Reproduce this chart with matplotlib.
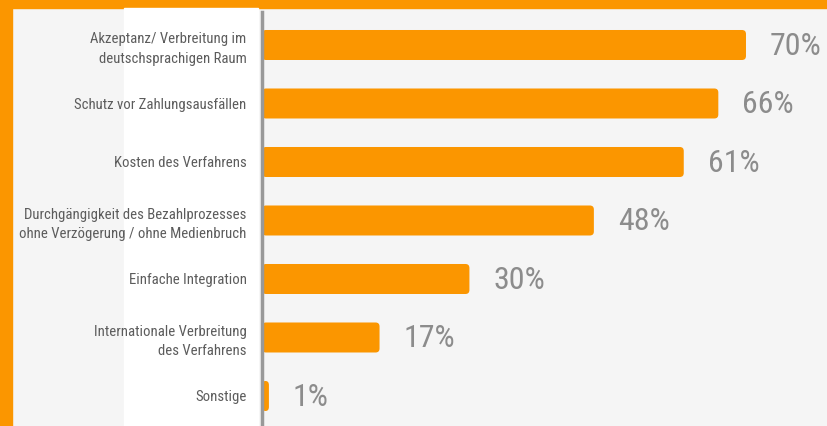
import numpy as np
import matplotlib.pyplot as plt
from matplotlib import font_manager
from matplotlib.patches import FancyBboxPatch, Rectangle

categories = [
    "Akzeptanz/ Verbreitung im\ndeutschsprachigen Raum",
    "Schutz vor Zahlungsausfällen",
    "Kosten des Verfahrens",
    "Durchgängigkeit des Bezahlprozesses\nohne Verzögerung / ohne Medienbruch",
    "Einfache Integration",
    "Internationale Verbreitung\ndes Verfahrens",
    "Sonstige",
]
values = [70, 66, 61, 48, 30, 17, 1]

ORANGE = "#fb9600"
BG = "#f5f5f5"
W, H = 827, 426

# pick a narrow font if one is installed
have = {f.name for f in font_manager.fontManager.ttflist}
narrow = [n for n in ["Roboto Condensed", "Liberation Sans Narrow", "DejaVu Sans"] if n in have]
FONT = narrow[0] if narrow else "DejaVu Sans"

fig = plt.figure(figsize=(W / 100, H / 100), dpi=100)
fig.patch.set_facecolor(BG)
# orange frame (left and top) and white label panel
fig.patches.append(Rectangle((0, 0), 12 / W, 1, transform=fig.transFigure, color=ORANGE, zorder=-5))
fig.patches.append(Rectangle((0, 1 - 8 / H), 1, 8 / H, transform=fig.transFigure, color=ORANGE, zorder=-5))
fig.patches.append(Rectangle((124 / W, 0), 134 / W, 1 - 8 / H, transform=fig.transFigure, color="white", zorder=-5))

ax = fig.add_axes([262 / W, 0, (W - 262) / W, 1 - 12 / H])
ax.set_zorder(1)
ax.set_facecolor(BG)
y = np.arange(len(values))
ax.set_xlim(0, (W - 262) / 6.914)
ax.set_ylim(6.513, -0.564)

bh = 30 / 58.5
rx = 4 / 6.914
asp = (4 / 58.5) / rx
for yi, v in zip(y, values):
    r = min(rx, v / 2)
    ax.add_patch(FancyBboxPatch((0, yi - bh / 2), v, bh,
                                boxstyle=f"round,pad=0,rounding_size={r}",
                                mutation_aspect=asp * rx / r,
                                facecolor=ORANGE, edgecolor="none", zorder=2))
    ax.text(v + 24 / 6.914, yi + 0.02, f"{v}%", va="center", ha="left",
            fontsize=23, color="#8c8c8c", family=FONT, fontstretch="condensed")

ax.set_yticks(y)
ax.set_yticklabels(categories, fontsize=10.6, color="#5c5c5c", family=FONT,
                   fontstretch="condensed", linespacing=1.5)
ax.tick_params(axis="y", length=0, pad=11)
ax.set_xticks([])
for s in ["top", "right", "bottom"]:
    ax.spines[s].set_visible(False)
ax.spines["left"].set_color("#999999")
ax.spines["left"].set_linewidth(2.5)
ax.spines["left"].set_zorder(3)

fig.savefig("out.png", dpi=100, facecolor=fig.get_facecolor())
